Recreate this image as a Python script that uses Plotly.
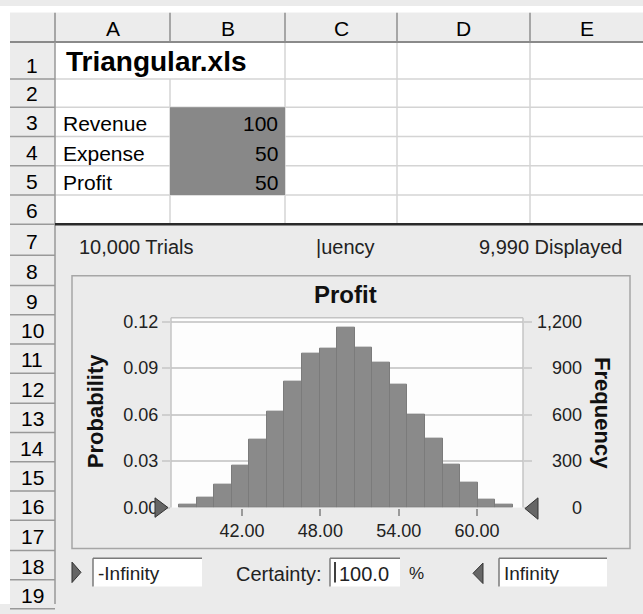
import plotly.graph_objects as go

# ---------------- data ----------------
sheet_title = "Triangular.xls"
col_letters = ["A", "B", "C", "D", "E"]
row_labels = ["1", "2", "3", "4", "5", "6", "7", "8", "9", "10",
              "11", "12", "13", "14", "15", "16", "17", "18", "19"]
cell_labels = ["Revenue", "Expense", "Profit"]
cell_values = [100, 50, 50]

forecast_name = "Profit"
trials = 10000
displayed = 9990
certainty = 100.0
lower_bound = "-Infinity"
upper_bound = "Infinity"

bin_centers = [37.84, 39.19, 40.53, 41.88, 43.23, 44.57, 45.92, 47.27, 48.61,
               49.96, 51.30, 52.65, 54.00, 55.34, 56.69, 58.03, 59.38, 60.73, 62.07]
bin_width = 1.346
frequency = [21, 63, 151, 272, 435, 618, 812, 995, 1026, 1158,
             1032, 936, 796, 601, 444, 276, 163, 52, 17]
probability = [f / trials for f in frequency]

x_ticks = [42, 48, 54, 60]
prob_ticks = [0.0, 0.03, 0.06, 0.09, 0.12]
freq_ticks = [0, 300, 600, 900, 1200]

# ---------------- geometry helpers (pixels -> paper) ----------------
W, H = 643, 614
def px(x):
    return x / W
def py(y):
    return 1 - y / H

col_edges = [55, 170, 285, 397, 530, 643]
row_edges = [37, 75, 104, 134, 164, 194, 224, 256, 287, 317, 347, 377, 408,
             438, 468, 498, 528, 559, 589, 619]

FONT = "Liberation Sans, Arial, sans-serif"
PANEL = "#ebebeb"
HEAD = "#ececec"

shapes = []
annotations = []

def rect(x0, y0, x1, y1, fill, line=None, lw=0, layer="below"):
    shapes.append(dict(type="rect", xref="paper", yref="paper",
                       x0=px(x0), x1=px(x1), y0=py(y1), y1=py(y0),
                       fillcolor=fill,
                       line=dict(color=line or fill, width=lw),
                       layer=layer))

def line(x0, y0, x1, y1, color, w, layer="below"):
    shapes.append(dict(type="line", xref="paper", yref="paper",
                       x0=px(x0), x1=px(x1), y0=py(y0), y1=py(y1),
                       line=dict(color=color, width=w), layer=layer))

def text(x, y, s, size, anchor="left", color="#000", bold=False, angle=0):
    annotations.append(dict(xref="paper", yref="paper", x=px(x), y=py(y),
                            text=("<b>%s</b>" % s) if bold else s,
                            showarrow=False, xanchor=anchor, yanchor="middle",
                            textangle=angle,
                            font=dict(family=FONT, size=size, color=color)))

def tri(points, fill="#666666", edge="#333333", layer="above"):
    path = "M " + " L ".join("%f,%f" % (px(a), py(b)) for a, b in points) + " Z"
    shapes.append(dict(type="path", xref="paper", yref="paper", path=path,
                       fillcolor=fill, line=dict(color=edge, width=1), layer=layer))

# white top/left margin
rect(0, 0, 643, 7, "#ffffff")
rect(0, 0, 10, 614, "#ffffff")
# header row + row-number column
rect(10, 7, 643, 37, HEAD)
rect(10, 37, 55, 614, HEAD)
# cell area
rect(55, 37, 643, 224, "#ffffff")

# cell grid lines
for y in row_edges[1:6]:
    line(55, y, 643, y, "#d4d4d4", 1.5)
for i, x in enumerate(col_edges[1:5]):
    y_start = 75 if i == 0 else 37
    line(x, y_start, x, 224, "#d4d4d4", 1.5)
# shaded input cells B3:B5
rect(170, 104, 285, 194, "#888888")

# header separators
for x in col_edges[:5]:
    line(x, 7, x, 37, "#8f8f8f", 1.5)
line(10, 37, 643, 37, "#8a8a8a", 2)
line(55, 37, 55, 614, "#999999", 1.5)
for y in row_edges[1:]:
    line(10, y, 55, y, "#999999", 1.5)
# thick line under row 6
line(55, 224, 643, 224, "#2a2a2a", 2.5)

# column letters and row numbers
for i, c in enumerate(col_letters):
    text((col_edges[i] + col_edges[i + 1]) / 2, 23, c, 21, anchor="center")
for i, r in enumerate(row_labels):
    text(32, row_edges[i + 1] - 14, r, 21, anchor="center")

# cell contents
text(64, 57, sheet_title, 28, bold=True)
for i, (lab, val) in enumerate(zip(cell_labels, cell_values)):
    yb = row_edges[i + 3]
    text(61, yb - 13, lab, 21)
    text(280, yb - 13, str(val), 21, anchor="right")

# chart panel texts
text(77, 247, "{:,} Trials".format(trials), 20, color="#222")
text(314, 247, "|uency", 20, color="#222")
text(624, 247, "{:,} Displayed".format(displayed), 20, anchor="right", color="#222")

# inner chart box
shapes.append(dict(type="rect", xref="paper", yref="paper",
                   x0=px(72), x1=px(630), y0=py(557), y1=py(277),
                   line=dict(color="#a6a6a6", width=1.5), layer="below"))
text(346, 296, forecast_name, 24, anchor="center", bold=True, color="#111")

# plot area frame
PL, PR, PT, PB = 171, 523, 320, 515
line(PL, PT, PR, PT, "#c4c4c4", 1.5, layer="above")
line(PL, PT, PL, PB, "#c4c4c4", 1.5, layer="above")
line(PR, PT, PR, PB, "#c4c4c4", 1.5, layer="above")

# axis titles
text(95, 416, "Probability", 22, anchor="center", bold=True, color="#111", angle=-90)
text(603, 418, "Frequency", 22, anchor="center", bold=True, color="#111", angle=90)

# right axis labels (right aligned)
for v in freq_ticks:
    annotations.append(dict(xref="paper", yref="y2", x=px(584), y=v,
                            text="{:,}".format(v), showarrow=False,
                            xanchor="right", yanchor="middle",
                            font=dict(family=FONT, size=18, color="#222")))

# grabber triangles
tri([(155, 505), (168, 515), (155, 525)])
tri([(538, 505), (525, 516), (538, 527)])
tri([(72, 571), (81, 581.5), (72, 592)])
tri([(483, 572), (473, 582.5), (483, 593)])

# bottom input boxes
def input_box(x0, x1):
    rect(x0, 567, x1, 596, "#ffffff", layer="above")
    line(x0, 567, x1, 567, "#7a7a7a", 1.5, layer="above")
    line(x0, 567, x0, 596, "#7a7a7a", 1.5, layer="above")

input_box(93, 202)
input_box(330, 400)
input_box(499, 607)
line(335, 571, 335, 592, "#000000", 1.5, layer="above")
text(96, 583, lower_bound, 19, color="#222")
text(234, 583, "Certainty:", 20, color="#222")
text(337, 583, "{:.1f}".format(certainty), 20, color="#222")
text(407, 583, "%", 17, color="#222")
text(502, 583, upper_bound, 19, color="#222")

# ---------------- figure ----------------
fig = go.Figure()
fig.add_trace(go.Bar(x=bin_centers, y=probability, width=bin_width,
                     marker=dict(color="#8a8a8a", line=dict(color="#7b7b7b", width=1)),
                     hoverinfo="skip", showlegend=False))
fig.add_trace(go.Scatter(x=bin_centers, y=frequency, yaxis="y2", mode="markers",
                         marker=dict(opacity=0), hoverinfo="skip", showlegend=False))

fig.update_layout(
    width=W, height=H, autosize=False,
    margin=dict(l=0, r=0, t=0, b=0),
    paper_bgcolor=PANEL, plot_bgcolor="#fdfdfd",
    bargap=0,
    shapes=shapes, annotations=annotations,
    xaxis=dict(domain=[px(PL), px(PR)], range=[36.56, 63.52],
               tickvals=x_ticks, tickformat=".2f",
               ticks="outside", ticklen=7, tickcolor="#9a9a9a", tickwidth=1.5,
               showgrid=False, zeroline=False, showline=False,
               tickfont=dict(family=FONT, size=18, color="#222")),
    yaxis=dict(domain=[py(PB), py(PT)], range=[0, 0.1225],
               tickvals=prob_ticks, tickformat=".2f",
               ticks="outside", ticklen=8, tickcolor="#cfcfcf", tickwidth=2,
               showgrid=True, gridcolor="#cfcfcf", gridwidth=2,
               zeroline=False, showline=False,
               tickfont=dict(family=FONT, size=18, color="#222")),
    yaxis2=dict(overlaying="y", side="right", range=[0, 1225],
                tickvals=freq_ticks, showticklabels=False,
                ticks="outside", ticklen=8, tickcolor="#cfcfcf", tickwidth=2,
                showgrid=False, zeroline=False, showline=False),
)

fig.write_html("out.html", config={"displayModeBar": False},
               post_script="document.body.style.margin='0';")
